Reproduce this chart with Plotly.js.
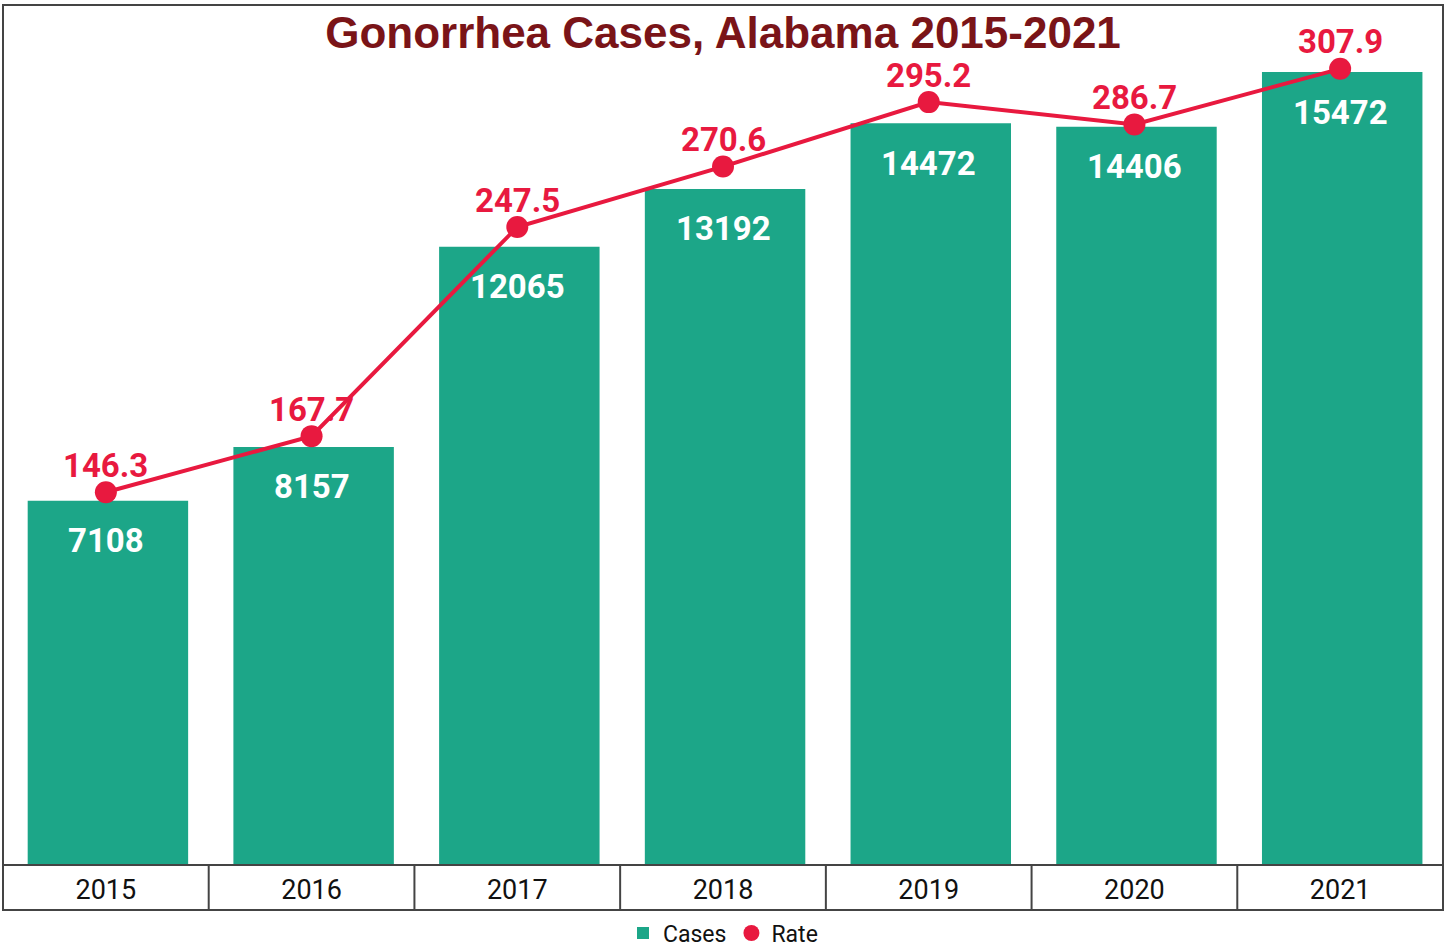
<!DOCTYPE html>
<html>
<head>
<meta charset="utf-8">
<script src="https://cdn.plot.ly/plotly-3.0.1.min.js"></script>
<style>html,body{margin:0;padding:0;background:#fff;}#chart{width:1448px;height:947px;}</style>
</head>
<body>
<div id="chart"></div>
<script>
const years = ['2015','2016','2017','2018','2019','2020','2021'];
const cases = [7108, 8157, 12065, 13192, 14472, 14406, 15472];
const rates = [146.3, 167.7, 247.5, 270.6, 295.2, 286.7, 307.9];

const teal = '#1ca688';
const red = '#e8193f';
const boldFont = 'Roboto, "Liberation Sans", sans-serif';

const traces = [
  {type:'bar', x:years, y:cases, name:'Cases', marker:{color:teal}, width:0.78, offset:-0.38, hoverinfo:'skip'},
  {type:'scatter', mode:'lines', x:years, y:rates, yaxis:'y2', line:{color:red, width:4}, showlegend:false, hoverinfo:'skip'},
  {type:'scatter', mode:'markers', x:years, y:rates, yaxis:'y2', name:'Rate', marker:{color:red, size:22}, hoverinfo:'skip'}
];

const annotations = [];
years.forEach((yr,i)=>{
  annotations.push({x:i, y:cases[i], xref:'x', yref:'y', text:String(cases[i]), showarrow:false,
    yshift:-40, yanchor:'middle', xanchor:'center', font:{family:boldFont, size:33, color:'#ffffff', weight:700}});
  annotations.push({x:i, y:rates[i], xref:'x', yref:'y2', text:rates[i].toFixed(1), showarrow:false,
    yshift:27, yanchor:'middle', xanchor:'center', borderpad:0, font:{family:boldFont, size:33, color:red, weight:700}});
});

const shapes = [
  {type:'rect', xref:'paper', yref:'paper', x0:0, x1:1, y0:-0.0549, y1:1.0488, line:{color:'#444', width:2}, layer:'above'},
  {type:'line', xref:'paper', yref:'paper', x0:0, x1:1, y0:0, y1:0, line:{color:'#444', width:2}, layer:'above'}
];
for (let i=0;i<years.length-1;i++){
  shapes.push({type:'line', xref:'x', yref:'paper', x0:i+0.5, x1:i+0.5, y0:-0.0549, y1:0, line:{color:'#444', width:2}});
}

const layout = {
  width:1448, height:947,
  margin:{l:3, r:5, t:45, b:82, autoexpand:false},
  paper_bgcolor:'#fff', plot_bgcolor:'#fff',
  title:{text:'Gonorrhea Cases, Alabama 2015-2021', x:0.5, xanchor:'center', xref:'paper', y:0.966, yanchor:'middle',
    font:{family:'"Liberation Sans", Roboto, sans-serif', size:44, color:'#7a1418', weight:700}},
  xaxis:{type:'category', showgrid:false, zeroline:false, showline:false, ticks:'', range:[-0.5,6.5], ticklabelstandoff:6,
    tickfont:{family:'Roboto, sans-serif', size:27, color:'#111'}, fixedrange:true},
  yaxis:{range:[0,16000], visible:false, showgrid:false, zeroline:false, fixedrange:true},
  yaxis2:{range:[4,317], overlaying:'y', side:'right', visible:false, showgrid:false, zeroline:false, fixedrange:true},
  showlegend:true,
  legend:{orientation:'h', x:0.5, xanchor:'center', y:-0.0830, yanchor:'middle', font:{family:'Roboto, sans-serif', size:23, color:'#111'}, itemwidth:30},
  annotations:annotations, shapes:shapes
};

Plotly.newPlot('chart', traces, layout, {displayModeBar:false, staticPlot:true});
</script>
</body>
</html>
